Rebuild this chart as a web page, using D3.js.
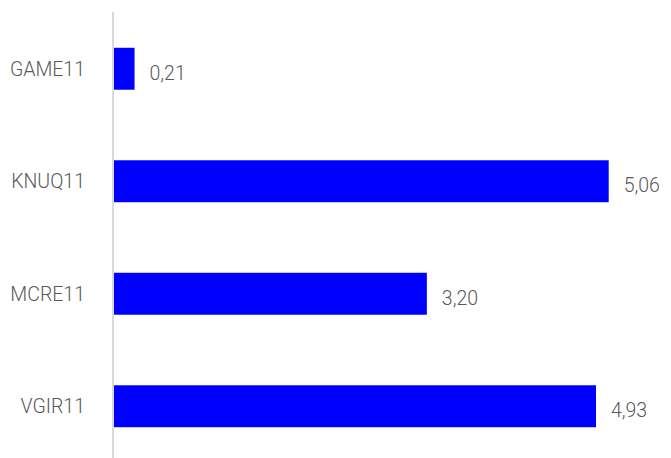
<!DOCTYPE html>
<html>
<head>
<meta charset="utf-8">
<script src="https://cdn.jsdelivr.net/npm/d3@7"></script>
<style>
  html, body { margin: 0; padding: 0; background: #fff; }
  svg { display: block; }
</style>
</head>
<body>
<svg id="chart" width="671" height="458"></svg>
<script>
// Tickers and their values
const tickers = ["GAME11", "KNUQ11", "MCRE11", "VGIR11"];
const values = [0.21, 5.06, 3.20, 4.93];

const width = 671;
const height = 458;
const axisX = 113;

const svg = d3.select("#chart");
const g = svg.append("g");

const xScale = d3.scaleLinear()
  .domain([0, 5.06])
  .range([axisX + 1, 608.7]);

const yScale = d3.scaleBand()
  .domain(tickers)
  .range([12.5, 462.5])
  .paddingInner(0.627)
  .paddingOuter(0.3135);

const fmt = v => d3.format(".2f")(v).replace(".", ",");

const data = tickers.map((t, i) => ({ ticker: t, value: values[i] }));

// bars
g.selectAll(".bar")
  .data(data)
  .enter()
  .append("rect")
  .attr("class", "bar")
  .attr("x", xScale(0))
  .attr("y", d => yScale(d.ticker))
  .attr("width", d => xScale(d.value) - xScale(0))
  .attr("height", yScale.bandwidth())
  .attr("fill", "#0000ff");

// vertical axis line
g.append("line")
  .attr("x1", axisX)
  .attr("x2", axisX)
  .attr("y1", 12)
  .attr("y2", height)
  .attr("stroke", "#d9d9d9")
  .attr("stroke-width", 2);

const font = "Roboto, 'Liberation Sans', Arial, sans-serif";

// category labels
g.selectAll(".label")
  .data(data)
  .enter()
  .append("text")
  .attr("class", "label")
  .attr("x", axisX - 28)
  .attr("y", d => yScale(d.ticker) + yScale.bandwidth() / 2)
  .attr("dy", "0.35em")
  .attr("text-anchor", "end")
  .style("font-family", font)
  .style("font-weight", 300)
  .style("font-size", "19.5px")
  .style("fill", "#595959")
  .text(d => d.ticker);

// value labels
g.selectAll(".value")
  .data(data)
  .enter()
  .append("text")
  .attr("class", "value")
  .attr("x", d => xScale(d.value) + 15)
  .attr("y", d => yScale(d.ticker) + yScale.bandwidth() / 2 + 4)
  .attr("dy", "0.35em")
  .style("font-family", font)
  .style("font-weight", 300)
  .style("font-size", "19.5px")
  .style("fill", "#595959")
  .text(d => fmt(d.value));
</script>
</body>
</html>
